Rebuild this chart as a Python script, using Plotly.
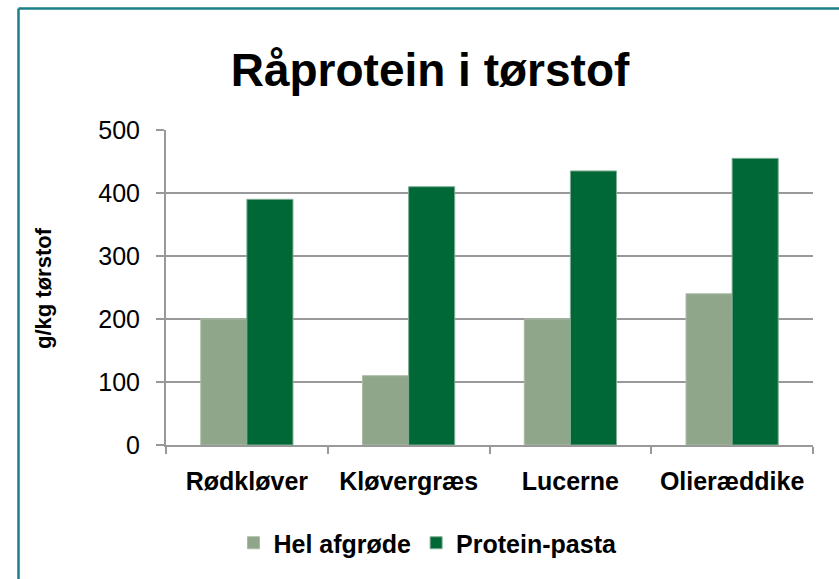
import plotly.graph_objects as go

categories = ["Rødkløver", "Kløvergræs", "Lucerne", "Olieræddike"]
hel_afgrode = [200, 110, 200, 240]
protein_pasta = [390, 410, 435, 455]
y_ticks = [0, 100, 200, 300, 400, 500]

FONT = "Liberation Sans, Arial, sans-serif"
L, R, T, B = 166, 26, 130, 134
PW, PH = 839 - L - R, 579 - T - B


def px_x(x):
    return (x - L) / PW


def px_y(y):
    return (579 - B - y) / PH


fig = go.Figure()
fig.add_trace(go.Bar(name="<b>Hel afgrøde</b>", x=categories, y=hel_afgrode,
                     marker=dict(color="#8fa68a", line=dict(color="#a9bca5", width=1))))
fig.add_trace(go.Bar(name="<b>Protein-pasta</b>", x=categories, y=protein_pasta,
                     marker=dict(color="#006837", line=dict(color="#7fae93", width=1))))

fig.update_layout(
    width=839, height=579,
    margin=dict(l=L, r=R, t=T, b=B),
    paper_bgcolor="white", plot_bgcolor="white",
    barmode="group", bargap=0.43, bargroupgap=0,
    font=dict(family=FONT, color="black"),
    title=dict(text="<b>Råprotein i tørstof</b>", x=430 / 839, xanchor="center",
               y=1 - 70 / 579, yanchor="middle",
               font=dict(size=46, family=FONT, color="black")),
    showlegend=True,
    legend=dict(orientation="h", x=px_x(428), xanchor="center", y=px_y(543), yanchor="middle",
                font=dict(size=25, family=FONT, color="black"),
                itemwidth=30, traceorder="normal"),
    annotations=[
        dict(text="<b>g/kg tørstof</b>", xref="paper", yref="paper",
             x=px_x(43), y=px_y(288), xanchor="center", yanchor="middle",
             textangle=-90, showarrow=False,
             font=dict(size=22, family=FONT, color="black")),
    ],
    shapes=[
        dict(type="line", xref="paper", yref="paper",
             x0=px_x(18.5), x1=px_x(18.5), y0=-1, y1=px_y(8.5),
             line=dict(color="#1b7f88", width=2.5)),
        dict(type="line", xref="paper", yref="paper",
             x0=px_x(18.5), x1=2, y0=px_y(8.5), y1=px_y(8.5),
             line=dict(color="#1b7f88", width=2.5)),
    ],
)

fig.update_xaxes(
    showline=True, linecolor="#999999", linewidth=2,
    ticks="outside", tickson="boundaries", ticklen=7, tickcolor="#999999", tickwidth=2,
    tickfont=dict(size=25, family=FONT, color="black"),
    tickprefix="<b>", ticksuffix="</b>",
    ticklabelstandoff=13,
    showgrid=False,
)
fig.update_yaxes(
    range=[0, 500], tickvals=y_ticks,
    showline=True, linecolor="#999999", linewidth=2,
    ticks="outside", ticklen=8, tickcolor="#999999", tickwidth=2,
    showgrid=True, gridcolor="#999999", gridwidth=2,
    zeroline=False,
    tickfont=dict(size=25, family=FONT, color="black"),
    ticklabelstandoff=11,
)

fig.write_html("out.html", config={"displayModeBar": False},
               post_script="document.body.style.margin='0';document.body.style.overflow='hidden';")
